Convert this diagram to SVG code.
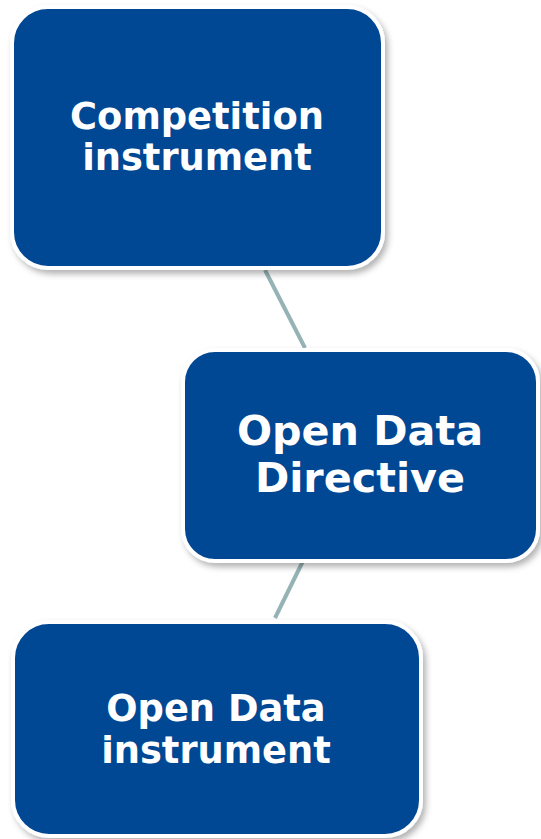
<svg xmlns="http://www.w3.org/2000/svg" width="541" height="839" viewBox="0 0 541 839">
<defs>
<filter id="sh" x="-10%" y="-10%" width="125%" height="125%">
<feDropShadow dx="3" dy="4" stdDeviation="3" flood-color="#000" flood-opacity="0.3"/>
</filter>
<style>
.box{fill:#034694;stroke:#fff;stroke-width:4;filter:url(#sh)}
.t{font-family:"DejaVu Sans",Verdana,sans-serif;font-weight:bold;fill:#fff;text-anchor:middle}
.c{stroke:#95B3B5;stroke-width:4;fill:none}
</style>
</defs>
<rect width="541" height="839" fill="#fff"/>
<g id="connectors">
<line class="c" x1="265" y1="270" x2="305" y2="348"/>
<line class="c" x1="303" y1="561" x2="275" y2="618"/>
</g>
<g id="node1">
<rect class="box" x="12" y="7" width="371" height="261" rx="36"/>
<text class="t" font-size="36.8" x="197" y="129">Competition</text>
<text class="t" font-size="36.8" x="197" y="170">instrument</text>
</g>
<g id="node2">
<rect class="box" x="183" y="350" width="355" height="211" rx="32"/>
<text class="t" font-size="41.3" x="360" y="445">Open Data</text>
<text class="t" font-size="41.3" x="360" y="492">Directive</text>
</g>
<g id="node3">
<rect class="box" x="13" y="622" width="408" height="214" rx="36"/>
<text class="t" font-size="36.8" x="216" y="721">Open Data</text>
<text class="t" font-size="36.8" x="216" y="763">instrument</text>
</g>
</svg>
